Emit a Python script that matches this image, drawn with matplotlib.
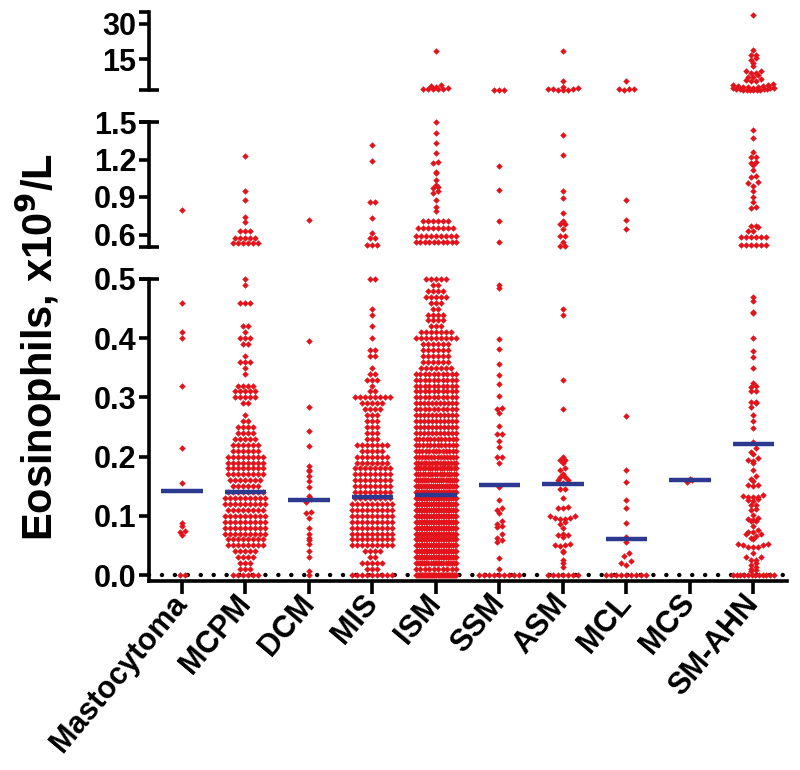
import numpy as np
import matplotlib
matplotlib.use('Agg')
import matplotlib.pyplot as plt

plt.rcParams['font.family'] = ['Liberation Sans', 'DejaVu Sans']
plt.rcParams['font.weight'] = 'bold'

categories = ['Mastocytoma', 'MCPM', 'DCM', 'MIS', 'ISM', 'SSM', 'ASM', 'MCL', 'MCS', 'SM-AHN']
medians = [0.142, 0.140, 0.127, 0.132, 0.135, 0.152, 0.153, 0.061, 0.161, 0.222]

# counts per 0.01 level (0.00 .. 0.50) for the crowded groups
levels = np.round(np.arange(51) * 0.01, 2)
mcpm_counts = [6, 3, 3, 4, 5, 8, 8, 9, 9, 9, 9, 8, 9, 9, 8, 6, 7, 8, 8, 8, 8, 6, 6, 5, 4,
               4, 2, 1, 0, 2, 5, 5, 4, 0, 1, 1, 3, 1, 0, 2, 3, 1, 2, 0, 0, 0, 3, 0, 0, 1, 1]
mis_counts = [9, 3, 5, 2, 4, 9, 9, 9, 9, 9, 9, 9, 9, 8, 8, 8, 8, 8, 8, 7, 7, 5, 7, 3, 3,
              3, 3, 3, 4, 5, 8, 2, 1, 3, 2, 1, 0, 2, 2, 0, 1, 0, 1, 0, 1, 1, 0, 0, 0, 0, 2]
ism_counts = [40, 10, 20, 25, 25, 25, 25, 25, 25, 25, 25, 25, 25, 25, 25, 22, 20, 18, 18, 16,
              14, 13, 12, 12, 11, 11, 11, 11, 10, 11, 10, 10, 10, 10, 10, 7, 6, 6, 6, 6,
              9, 7, 3, 4, 4, 2, 3, 5, 4, 2, 5]

# values above 0.5
mcpm_high = [0.53, 0.53, 0.53, 0.53, 0.53, 0.53, 0.57, 0.57, 0.57, 0.57, 0.57,
             0.63, 0.63, 0.63, 0.70, 0.74, 0.88, 0.95, 1.23]
mis_high = [0.52, 0.52, 0.52, 0.57, 0.57, 0.61, 0.73, 0.86, 0.86, 1.19, 1.32]
ism_high = [0.54, 0.54, 0.54, 0.54, 0.54, 0.54, 0.54, 0.54, 0.54, 0.54,
            0.59, 0.59, 0.59, 0.59, 0.59, 0.59, 0.59, 0.59, 0.59,
            0.65, 0.65, 0.65, 0.65, 0.65, 0.65, 0.65, 0.65,
            0.71, 0.71, 0.71, 0.71, 0.71, 0.71,
            0.79, 0.82, 0.88, 0.93, 0.95, 0.97, 0.98, 1.00, 1.04, 1.09, 1.10, 1.17, 1.18,
            1.25, 1.33, 1.41, 1.50,
            2.3, 2.4, 2.4, 2.5, 2.5, 2.8, 3.2, 3.6, 4.0, 18.6]

# sparse groups, listed value by value
mastocytoma = [0.0, 0.0, 0.068, 0.072, 0.075, 0.082, 0.088, 0.155, 0.215, 0.32, 0.40, 0.41,
               0.46, 0.80]
dcm = [0.0, 0.007, 0.03, 0.04, 0.053, 0.059, 0.063, 0.07, 0.079, 0.097, 0.104, 0.107, 0.123,
       0.128, 0.133, 0.149, 0.158, 0.167, 0.175, 0.177, 0.184, 0.218, 0.243, 0.284, 0.395,
       0.72]
ssm = [0.0, 0.0, 0.0, 0.0, 0.0, 0.0, 0.0, 0.0, 0.0, 0.011, 0.029, 0.056, 0.059, 0.063, 0.069,
       0.081, 0.082, 0.086, 0.091, 0.105, 0.11, 0.114, 0.127, 0.148, 0.19, 0.20, 0.20, 0.216,
       0.227, 0.238, 0.239, 0.252, 0.274, 0.28, 0.282, 0.303, 0.323, 0.338, 0.356, 0.381,
       0.398, 0.484, 0.49, 0.54, 0.71, 0.96, 1.15, 2.1, 2.2, 2.2]
asm = [0.0, 0.0, 0.0, 0.0, 0.0, 0.0, 0.0, 0.014, 0.021, 0.025, 0.039, 0.04, 0.049, 0.05, 0.05,
       0.053, 0.065, 0.068, 0.068, 0.07, 0.08, 0.087, 0.09, 0.094, 0.094, 0.097, 0.097, 0.099,
       0.10, 0.114, 0.114, 0.115, 0.13, 0.145, 0.145, 0.155, 0.16, 0.16, 0.165, 0.166, 0.17,
       0.178, 0.18, 0.19, 0.195, 0.195, 0.20, 0.28, 0.33, 0.44, 0.45,
       0.51, 0.51, 0.54, 0.59, 0.59, 0.645, 0.685, 0.685, 0.71, 0.77, 0.89, 0.95, 1.24, 1.40,
       2.0, 2.1, 2.2, 2.3, 2.3, 2.5, 2.8, 3.2, 5.6, 18.3]
mcl = [0.0, 0.0, 0.0, 0.0, 0.0, 0.0, 0.0, 0.0, 0.0, 0.017, 0.02, 0.024, 0.032, 0.038, 0.056,
       0.064, 0.088, 0.114, 0.127, 0.157, 0.177, 0.269, 0.645, 0.72, 0.88,
       2.2, 2.3, 2.3, 2.6, 6.0]
mcs = [0.157, 0.16, 0.163]
sm_ahn = [0.0, 0.0, 0.0, 0.0, 0.0, 0.0, 0.0, 0.0, 0.0, 0.0, 0.0, 0.0,
          0.006, 0.008, 0.011, 0.014, 0.017, 0.02, 0.025, 0.026, 0.031, 0.031, 0.037, 0.047,
          0.047, 0.048, 0.051, 0.051, 0.052, 0.052, 0.06, 0.063, 0.066, 0.069, 0.069, 0.072,
          0.072, 0.076, 0.083, 0.092, 0.092, 0.093, 0.094, 0.097, 0.101, 0.109, 0.111, 0.118,
          0.118, 0.125, 0.126, 0.128, 0.131, 0.131, 0.132, 0.134, 0.135, 0.150, 0.152, 0.152,
          0.159, 0.162, 0.167, 0.178, 0.19, 0.193, 0.194, 0.197, 0.204, 0.208, 0.214, 0.225,
          0.249, 0.26, 0.271, 0.283, 0.29, 0.292, 0.293, 0.311, 0.311, 0.318, 0.319, 0.325,
          0.349, 0.368, 0.379, 0.40, 0.442, 0.444, 0.462, 0.47,
          0.52, 0.52, 0.52, 0.52, 0.52, 0.52, 0.58, 0.58, 0.58, 0.58, 0.58, 0.58,
          0.63, 0.63, 0.66, 0.67, 0.67, 0.81, 0.82, 0.86, 0.90, 0.95, 0.99, 1.01, 1.02, 1.06,
          1.07, 1.12, 1.16, 1.17, 1.18, 1.22, 1.22, 1.26, 1.37, 1.44,
          2.0, 2.0, 2.1, 2.1, 2.2, 2.2, 2.3, 2.4, 2.5, 2.6, 2.7, 2.8, 2.9, 3.0, 3.1, 3.2, 3.4,
          3.6, 3.8, 4.0, 4.2, 4.4, 5.6, 6.0, 6.3, 6.6, 7.5, 7.5, 8.5, 9.2, 9.2, 10.0, 10.0,
          12.2, 13.6, 14.7, 15.4, 16.9, 16.9, 19.1, 33.8]

mcpm = list(np.repeat(levels, mcpm_counts)) + mcpm_high
mis = list(np.repeat(levels, mis_counts)) + mis_high
ism = list(np.repeat(levels, ism_counts)) + ism_high
groups = [mastocytoma, mcpm, dcm, mis, ism, ssm, asm, mcl, mcs, sm_ahn]

red = '#E3131B'
blue = '#2B3990'


def swarm(vals, lo, hi, hpx, step=5 / 63.5, half=0.32, binpx=4.5):
    # prism-like scatter: rows of points, lowest value in the middle
    vals = np.sort(np.asarray(vals, float))
    bins = np.round((vals - lo) / (hi - lo) * hpx / binpx).astype(int)
    xs, ys = [], []
    for b in np.unique(bins):
        v = vals[bins == b]
        n = len(v)
        d = step if n < 2 else min(step, 2 * half / (n - 1))
        pos = (np.arange(n) - (n - 1) / 2) * d
        order = np.argsort(np.abs(pos), kind='stable')
        xs.extend(pos[order])
        ys.extend(v)
    return np.array(xs), np.array(ys)


fig = plt.figure(figsize=(8, 7.7), dpi=100)
left, width = 149 / 800, 638 / 800
ax_top = fig.add_axes([left, 680 / 770, width, 78 / 770])
ax_mid = fig.add_axes([left, 523 / 770, width, 125 / 770])
ax_bot = fig.add_axes([left, 189 / 770, width, 302 / 770])

panels = [(ax_top, 2, 35, 78), (ax_mid, 0.5, 1.5, 125), (ax_bot, -0.0101, 0.5, 302)]

for i, vals in enumerate(groups):
    vals = np.asarray(vals, float)
    parts = [vals[vals > 1.5], vals[(vals > 0.5) & (vals <= 1.5)], vals[vals <= 0.5]]
    for (ax, lo, hi, hpx), v in zip(panels, parts):
        if len(v) == 0:
            continue
        xs, ys = swarm(v, lo, hi, hpx)
        ax.scatter(i + xs, ys, marker='D', s=11, color=red, linewidths=0,
                   clip_on=False, zorder=3)

x = np.arange(len(categories))
ax_bot.hlines(medians, x - 0.325, x + 0.325, color=blue, lw=3.2, zorder=4)
ax_bot.axhline(0, color='black', lw=3.2, dashes=(0.01, 2.9), dash_capstyle='round', zorder=2)

for ax, lo, hi, hpx in panels:
    ax.set_xlim(-0.52, 9.53)
    ax.set_ylim(lo, hi)
    for s in ['top', 'right']:
        ax.spines[s].set_visible(False)
    ax.spines['left'].set_linewidth(2.6)
    ax.spines['bottom'].set_linewidth(2.6)
    ax.tick_params(axis='y', length=7, width=2.6, labelsize=22, pad=2)
    ax.tick_params(axis='x', length=9, width=2.6, labelsize=22)

for ax in [ax_top, ax_mid]:
    ax.spines['bottom'].set_visible(False)
    ax.set_xticks([])

ax_top.set_yticks([15, 30, 35])
ax_top.set_yticklabels(['15', '30', ''])
ax_mid.set_yticks([0.6, 0.9, 1.2, 1.5])
ax_mid.set_yticklabels(['0.6', '0.9', '1.2', '1.5'])
ax_bot.set_yticks([0, 0.1, 0.2, 0.3, 0.4, 0.5])
ax_bot.set_yticklabels(['0.0', '0.1', '0.2', '0.3', '0.4', '0.5'])

# break caps across the axis
for ax, y in [(ax_top, 2), (ax_mid, 0.5), (ax_mid, 1.5), (ax_bot, 0.5)]:
    ax.plot([-0.016, 0.016], [y, y], transform=ax.get_yaxis_transform(), color='black',
            lw=2.6, clip_on=False, solid_capstyle='butt')

ax_bot.set_xticks(x)
ax_bot.set_xticklabels(categories, rotation=50, ha='right', va='center',
                       rotation_mode='anchor')

fig.text(38 / 800, 1 - 347 / 770, 'Eosinophils, x10$^\\mathbf{9}$/L', rotation=90,
         ha='center', va='center', fontsize=30, fontweight='bold')

fig.savefig('out.png', dpi=100)
